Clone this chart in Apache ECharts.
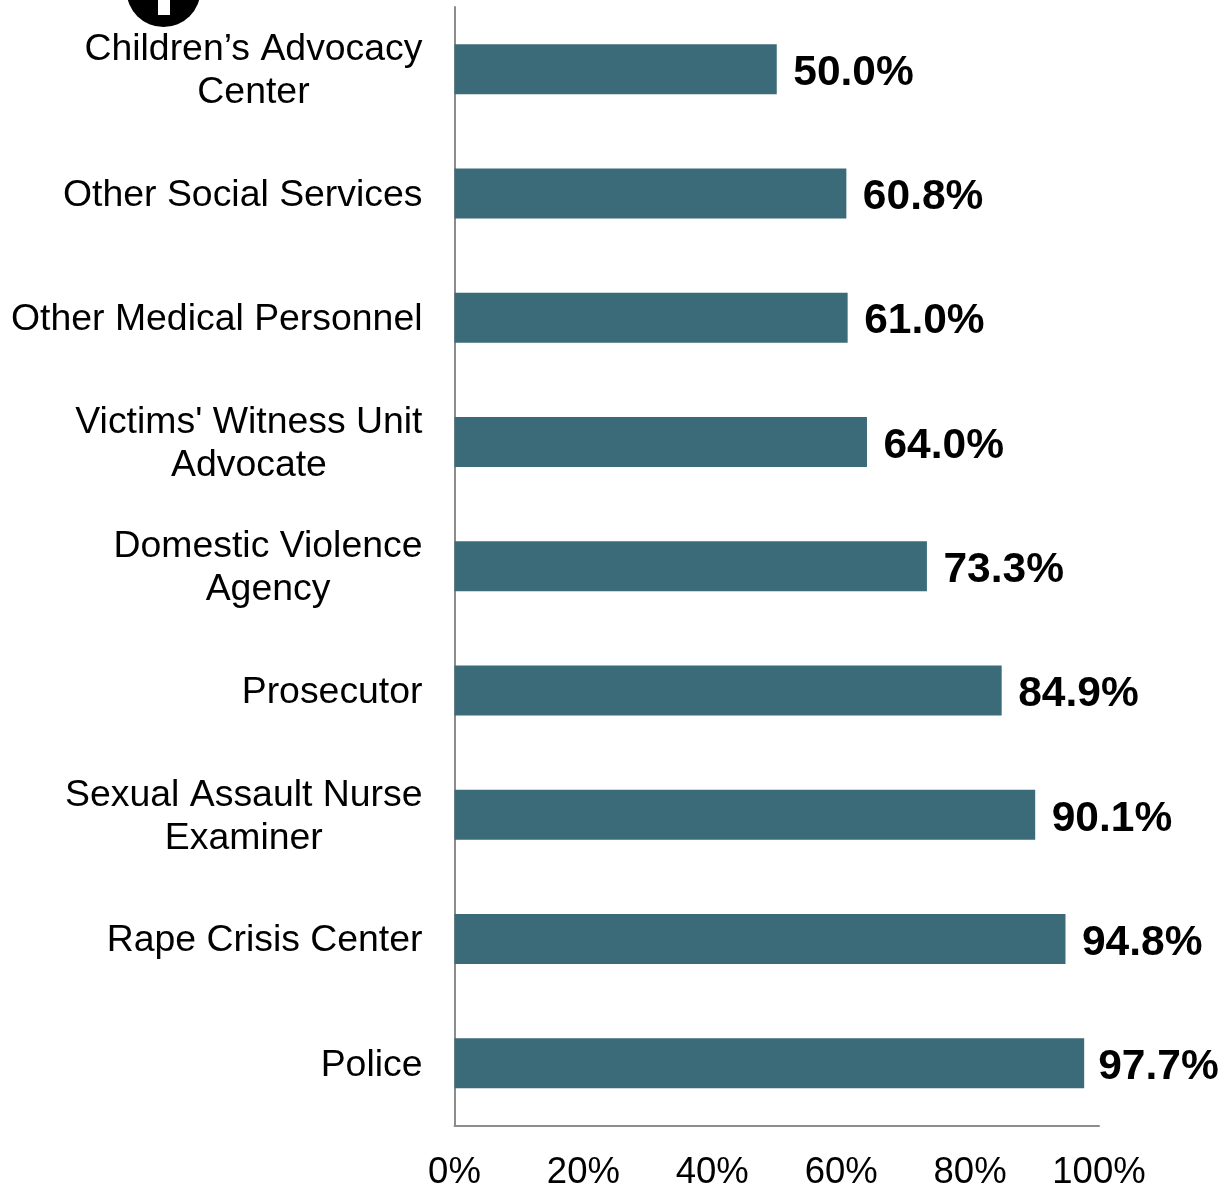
<!DOCTYPE html>
<html>
<head>
<meta charset="utf-8">
<style>html,body{margin:0;padding:0;background:#fff}#c{width:1223px;height:1185px}</style>
<script src="https://cdn.jsdelivr.net/npm/echarts@6/dist/echarts.min.js"></script>
</head>
<body>
<div id="c"></div>
<script>
const categories = ["Children’s Advocacy\nCenter","Other Social Services","Other Medical Personnel","Victims' Witness Unit\nAdvocate","Domestic Violence\nAgency","Prosecutor","Sexual Assault Nurse\nExaminer","Rape Crisis Center","Police"];
const values = [50.0,60.8,61.0,64.0,73.3,84.9,90.1,94.8,97.7];
const chart = echarts.init(document.getElementById('c'), null, {renderer:'canvas'});
const font = 'Liberation Sans';
chart.setOption({
  animation:false,
  backgroundColor:'#fff',
  grid:{left:454.5,right:124,top:7,bottom:59.5,containLabel:false,outerBoundsMode:'none'},
  xAxis:{type:'value',min:0,max:100,interval:20,
    axisLine:{show:true,lineStyle:{color:'#8c8c8c',width:2}},
    axisTick:{show:false},splitLine:{show:false},
    axisLabel:{margin:29,color:'#000',fontFamily:font,fontSize:36.5,formatter:'{value}%',hideOverlap:false,showMinLabel:true,showMaxLabel:true}},
  yAxis:{type:'category',inverse:true,data:categories,
    axisLine:{show:true,lineStyle:{color:'#8c8c8c',width:2}},
    axisTick:{show:false},
    axisLabel:{margin:32,interval:0,color:'#000',fontFamily:font,fontSize:37.4,padding:[4,0,0,0],
      formatter:v=>v.split('\n').map(s=>'{c|'+s+'}').join('\n'),
      rich:{c:{align:'center',color:'#000',fontFamily:font,fontSize:37.4,lineHeight:43}}}},
  series:[{type:'bar',barWidth:50,
    data:values.map((v,i)=>i===values.length-1?{value:v,label:{offset:[-2,4]}}:v),
    itemStyle:{color:'#3b6a79'},
    label:{show:true,position:'right',distance:16,offset:[0.5,4],color:'#000',fontFamily:font,fontSize:42.5,fontWeight:'bold',formatter:p=>p.value.toFixed(1)+'%'}}],
  graphic:[
    {type:'circle',shape:{cx:163.5,cy:-10,r:37},style:{fill:'#000'},silent:true},
    {type:'rect',shape:{x:158,y:0,width:12,height:15},style:{fill:'#fff'},silent:true}
  ]
});
</script>
</body>
</html>
